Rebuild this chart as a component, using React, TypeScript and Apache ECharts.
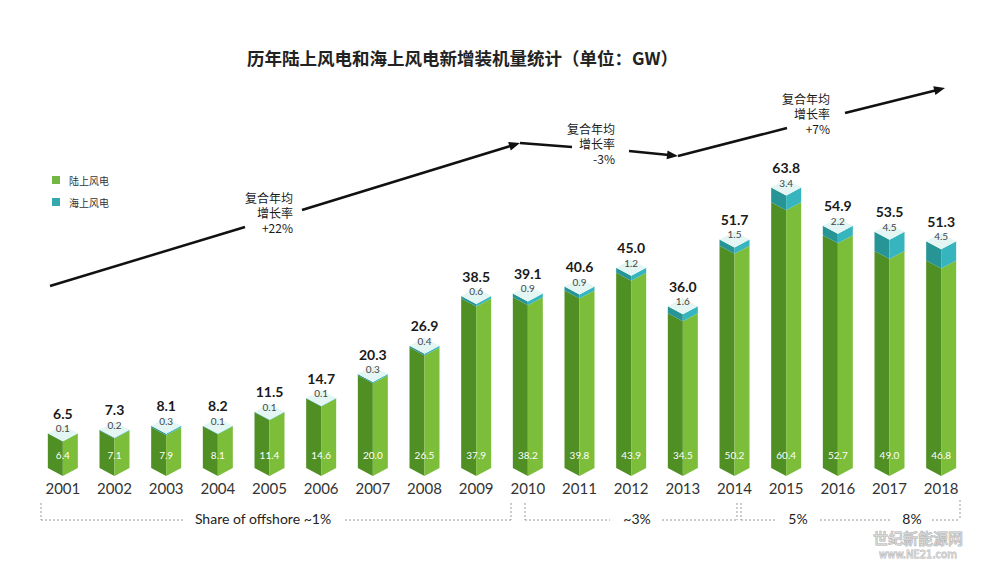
import React, { useEffect, useRef } from "react";
import * as echarts from "echarts";

const years = ["2001", "2002", "2003", "2004", "2005", "2006", "2007", "2008", "2009", "2010", "2011", "2012", "2013", "2014", "2015", "2016", "2017", "2018"];
const onshore = [6.4, 7.1, 7.9, 8.1, 11.4, 14.6, 20.0, 26.5, 37.9, 38.2, 39.8, 43.9, 34.5, 50.2, 60.4, 52.7, 49.0, 46.8];
const offshore = [0.1, 0.2, 0.3, 0.1, 0.1, 0.1, 0.3, 0.4, 0.6, 0.9, 0.9, 1.2, 1.6, 1.5, 3.4, 2.2, 4.5, 4.5];
const totals = [6.5, 7.3, 8.1, 8.2, 11.5, 14.7, 20.3, 26.9, 38.5, 39.1, 40.6, 45.0, 36.0, 51.7, 63.8, 54.9, 53.5, 51.3];
const seriesNames = ["陆上风电", "海上风电"];
const cagrLabels = ["+22%", "-3%", "+7%"];
const shareLabels = ["Share of offshore ~1%", "~3%", "5%", "8%"];

const W = 15;
const D = 8;
const BASE = 7;
const LATIN = "Lato, 'Noto Sans', sans-serif";
const CJK = "'Noto Sans CJK SC', 'Noto Sans', sans-serif";

function landItem(params: any, api: any) {
  const i = api.value(0);
  const v = api.value(1);
  const top = api.coord([i, v]);
  const zero = api.coord([i, 0]);
  const cx = top[0];
  const yt = top[1];
  const yb = zero[1] + BASE;
  return {
    type: "group",
    children: [
      { type: "polygon", shape: { points: [[cx - W, yt], [cx, yt + D], [cx, yb + D], [cx - W, yb]] }, style: { fill: "#4f8f23" } },
      { type: "polygon", shape: { points: [[cx, yt + D], [cx + W, yt], [cx + W, yb], [cx, yb + D]] }, style: { fill: "#7cbd3a" } },
      {
        type: "text",
        style: { text: Number(v).toFixed(1), x: cx, y: zero[1] - 6, align: "center", verticalAlign: "middle", fill: "#ffffff", fontSize: 10, fontFamily: LATIN },
      },
    ],
  };
}

function offItem(params: any, api: any) {
  const i = api.value(0);
  const land = api.value(1);
  const off = api.value(2);
  const tot = api.value(3);
  const pl = api.coord([i, land]);
  const pt = api.coord([i, land + off]);
  const cx = pt[0];
  const yl = pl[1];
  const yt = pt[1];
  return {
    type: "group",
    children: [
      { type: "polygon", shape: { points: [[cx - W, yt], [cx, yt + D], [cx, yl + D], [cx - W, yl]] }, style: { fill: "#279595" } },
      { type: "polygon", shape: { points: [[cx, yt + D], [cx + W, yt], [cx + W, yl], [cx, yl + D]] }, style: { fill: "#36b5be" } },
      { type: "polygon", shape: { points: [[cx - W, yt], [cx, yt + D], [cx + W, yt], [cx, yt - D]] }, style: { fill: "#e4f6f4" } },
      {
        type: "text",
        style: { text: Number(off).toFixed(1), x: cx, y: yt - 5, align: "center", verticalAlign: "middle", fill: "#444", fontSize: 10, fontFamily: LATIN },
      },
      {
        type: "text",
        style: { text: Number(tot).toFixed(1), x: cx, y: yt - 20, align: "center", verticalAlign: "middle", fill: "#1a1a1a", fontSize: 14, fontWeight: "bold", fontFamily: LATIN },
      },
    ],
  };
}

function seg(x1: number, y1: number, x2: number, y2: number, arrow: boolean) {
  const out: any[] = [];
  const a = Math.atan2(y2 - y1, x2 - x1);
  const L = 11;
  const w = 4.5;
  const ex = arrow ? x2 - (L - 2) * Math.cos(a) : x2;
  const ey = arrow ? y2 - (L - 2) * Math.sin(a) : y2;
  out.push({ type: "line", shape: { x1, y1, x2: ex, y2: ey }, style: { stroke: "#111", lineWidth: 2.5 } });
  if (arrow) {
    const bx = x2 - L * Math.cos(a);
    const by = y2 - L * Math.sin(a);
    out.push({
      type: "polygon",
      shape: { points: [[x2, y2], [bx + w * Math.sin(a), by - w * Math.cos(a)], [bx - w * Math.sin(a), by + w * Math.cos(a)]] },
      style: { fill: "#111" },
    });
  }
  return out;
}

function cagrText(x: number, y: number, label: string) {
  return {
    type: "text",
    x,
    y,
    style: { text: "复合年均\n增长率\n" + label, align: "right", verticalAlign: "middle", fill: "#1a1a1a", fontSize: 12, lineHeight: 15, fontFamily: CJK },
  };
}

function dash(x1: number, y1: number, x2: number, y2: number) {
  return { type: "line", shape: { x1, y1, x2, y2 }, style: { stroke: "#9a9a9a", lineWidth: 1, lineDash: [2, 2] } };
}

function shareText(x: number, label: string) {
  return { type: "text", x, y: 518, style: { text: label, align: "center", verticalAlign: "middle", fill: "#222", fontSize: 14, fontFamily: LATIN } };
}

export default function App() {
  const ref = useRef<HTMLDivElement>(null);
  useEffect(() => {
    if (!ref.current) return;
    const chart = echarts.init(ref.current, undefined, { renderer: "svg" });
    const landData = years.map((_, i) => [i, onshore[i]]);
    const offData = years.map((_, i) => [i, onshore[i], offshore[i], totals[i]]);
    const graphics: any[] = [
      ...seg(50, 286, 245, 227, false),
      ...seg(302, 210, 520, 143, true),
      ...seg(520, 143, 572, 147, false),
      ...seg(629, 151, 678, 156, true),
      ...seg(678, 156, 787, 128, false),
      ...seg(845, 113, 945, 88, true),
      cagrText(293, 212, cagrLabels[0]),
      cagrText(615, 143, cagrLabels[1]),
      cagrText(830, 113, cagrLabels[2]),
      dash(41, 503, 41, 520),
      dash(41, 520, 183, 520),
      shareText(263, shareLabels[0]),
      dash(345, 520, 511, 520),
      dash(511, 503, 511, 520),
      dash(525, 503, 525, 520),
      dash(525, 520, 610, 520),
      shareText(637, shareLabels[1]),
      dash(662, 520, 737, 520),
      dash(737, 503, 737, 520),
      dash(741, 503, 741, 520),
      dash(741, 520, 777, 520),
      shareText(798, shareLabels[2]),
      dash(820, 520, 890, 520),
      shareText(912, shareLabels[3]),
      dash(932, 520, 960, 520),
      dash(960, 500, 960, 520),
      {
        type: "text",
        x: 918,
        y: 537,
        z: 10,
        style: { text: "世纪新能源网", align: "center", verticalAlign: "middle", fill: "rgba(255,255,255,0.5)", stroke: "#b0b0b0", lineWidth: 1, fontSize: 15, fontFamily: CJK },
      },
      {
        type: "text",
        x: 918,
        y: 554,
        z: 10,
        style: { text: "www.NE21.com", align: "center", verticalAlign: "middle", fill: "rgba(255,255,255,0.5)", stroke: "#b0b0b0", lineWidth: 0.8, fontSize: 10, fontFamily: "'DejaVu Sans', sans-serif" },
      },
    ];
    chart.setOption({
      animation: false,
      backgroundColor: "#ffffff",
      title: {
        text: "历年陆上风电和海上风电新增装机量统计（单位：GW）",
        left: 242,
        top: 44,
        textStyle: { fontSize: 17.5, fontWeight: "bold", color: "#222", fontFamily: CJK },
      },
      legend: {
        data: seriesNames,
        orient: "vertical",
        left: 47,
        top: 169,
        itemWidth: 8,
        itemHeight: 8,
        itemGap: 10,
        icon: "rect",
        textStyle: { fontSize: 10, lineHeight: 12, color: "#333", fontFamily: CJK, padding: [0, 0, 0, 4] },
      },
      grid: { left: 37, right: 33, top: 161, bottom: 100, containLabel: false },
      xAxis: {
        type: "category",
        data: years,
        axisLine: { show: false },
        axisTick: { show: false },
        axisLabel: { fontSize: 15, color: "#333", margin: 19, fontFamily: LATIN },
      },
      yAxis: { type: "value", min: 0, max: 70, show: false, splitLine: { show: false } },
      series: [
        { name: seriesNames[0], type: "custom", renderItem: landItem, data: landData, encode: { x: 0, y: 1 }, itemStyle: { color: "#72b842" } },
        { name: seriesNames[1], type: "custom", renderItem: offItem, data: offData, encode: { x: 0, y: 1 }, itemStyle: { color: "#33a8ad" } },
      ],
      graphic: graphics,
    });
    return () => chart.dispose();
  }, []);
  return <div ref={ref} style={{ position: "fixed", left: 0, top: 0, width: 1000, height: 561, background: "#fff" }} />;
}
